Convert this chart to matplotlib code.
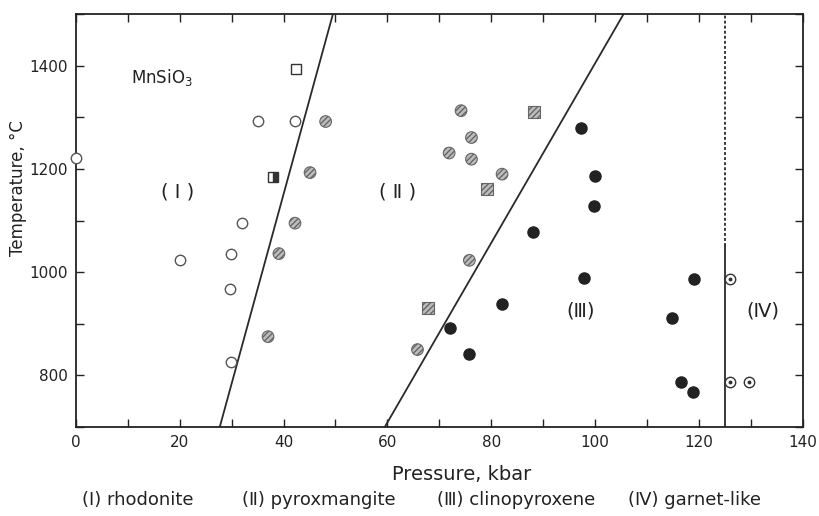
import matplotlib
matplotlib.use("Agg")
import matplotlib.pyplot as plt

plt.rcParams['font.family'] = ['DejaVu Sans', 'Noto Sans CJK JP']

# Data (pressure kbar, temperature °C)
rhod_P = [0, 20, 29.9, 29.7, 29.9, 31.9, 35.1, 42.2]
rhod_T = [1221, 1024, 1035, 967, 825, 1095, 1293, 1293]
rhod_sq_P = [42.3]
rhod_sq_T = [1393]
half_sq_P = [37.9]
half_sq_T = [1185]
pyrox_P = [48.1, 45.1, 42.2, 39.1, 37.0, 65.8, 71.9, 74.2, 76.2, 76.2, 82.1, 75.8]
pyrox_T = [1292, 1193, 1095, 1036, 875, 850, 1231, 1313, 1261, 1219, 1190, 1023]
pyrox_sq_P = [88.3, 79.2, 67.9]
pyrox_sq_T = [1310, 1161, 931]
clino_P = [97.4, 100.1, 99.9, 88.0, 97.9, 82.1, 72.1, 75.8, 119.0, 114.9, 116.5, 118.8]
clino_T = [1279, 1187, 1129, 1078, 988, 939, 891, 841, 987, 911, 788, 767]
garnet_P = [126, 126, 129.7]
garnet_T = [987, 788, 788]

b1_P = [27.7, 49.5]
b1_T = [700, 1500]
b2_P = [59.5, 105.5]
b2_T = [700, 1500]
b3_P = [125, 125]
b3_T_solid = [700, 1050]
b3_T_dash = [1050, 1500]

region_labels = ['( Ⅰ )', '( Ⅱ )', '(Ⅲ)', '(Ⅳ)']
region_P = [19.6, 62, 97.3, 132.3]
region_T = [1156, 1156, 925, 925]
caption = ['(Ⅰ) rhodonite', '(Ⅱ) pyroxmangite', '(Ⅲ) clinopyroxene', '(Ⅳ) garnet-like']

xticks = list(range(0, 141, 10))
yticks = list(range(700, 1501, 100))
xlabels = [str(v) if v % 20 == 0 else '' for v in xticks]
ylabels = [str(v) if v in (800, 1000, 1200, 1400) else '' for v in yticks]

fig = plt.figure(figsize=(8.2, 5.16), dpi=100)
ax = fig.add_axes([0.0927, 0.1725, 0.886, 0.800])
ax.set_xlim(0, 140)
ax.set_ylim(700, 1500)

lc = '#2a2a2a'
ax.plot(b1_P, b1_T, color=lc, lw=1.3)
ax.plot(b2_P, b2_T, color=lc, lw=1.3)
ax.plot(b3_P, b3_T_solid, color=lc, lw=1.3)
ax.plot(b3_P, b3_T_dash, color=lc, lw=1.3, ls=(0, (1.6, 1.2)))

ms = 7.5
ax.plot(rhod_P, rhod_T, 'o', ms=ms, mfc='white', mec='#555555', mew=1.0, ls='none', clip_on=False, zorder=5)
ax.plot(rhod_sq_P, rhod_sq_T, 's', ms=ms, mfc='white', mec='#333333', mew=1.0, ls='none', zorder=5)
ax.plot(half_sq_P, half_sq_T, 's', ms=ms, fillstyle='right', mfc='#333333', mfcalt='white',
        mec='#333333', mew=1.0, ls='none', zorder=5)
ax.scatter(pyrox_P, pyrox_T, s=70, marker='o', facecolor='#bdbdbd', edgecolor='#666666',
           hatch='//////', linewidths=0.8, zorder=5)
ax.scatter(pyrox_sq_P, pyrox_sq_T, s=75, marker='s', facecolor='#bdbdbd', edgecolor='#666666',
           hatch='//////', linewidths=0.8, zorder=5)
ax.plot(clino_P, clino_T, 'o', ms=ms + 0.5, mfc='#222222', mec='#222222', ls='none', zorder=5)
ax.plot(garnet_P, garnet_T, 'o', ms=ms, mfc='white', mec='#333333', mew=1.0, ls='none', zorder=5)
ax.plot(garnet_P, garnet_T, 'o', ms=1.8, mfc='#333333', mec='#333333', ls='none', zorder=6)

ax.text(10.5, 1378, 'MnSiO$_3$', fontsize=12, ha='left', va='center', color='#222222')
for lab, p, t in zip(region_labels, region_P, region_T):
    ax.text(p, t, lab, fontsize=14, ha='center', va='center', color='#222222')

ax.set_xticks(xticks)
ax.set_xticklabels(xlabels)
ax.set_yticks(yticks)
ax.set_yticklabels(ylabels)
ax.tick_params(direction='in', length=6, width=1.0, top=True, right=True,
               labelsize=11, colors='#222222', pad=6)
for s in ax.spines.values():
    s.set_linewidth(1.3)
    s.set_color('#222222')

ax.set_xlabel('Pressure, kbar', fontsize=14, color='#222222')
ax.xaxis.set_label_coords(0.531, -0.092)
ax.set_ylabel('Temperature, °C', fontsize=12, color='#222222')
ax.yaxis.set_label_coords(-0.068, 0.58)

cap_x = [82, 242, 437, 628]
for txt, xp in zip(caption, cap_x):
    fig.text(xp / 820, 1 - 500 / 516, txt, fontsize=13, ha='left', va='center', color='#222222')

fig.savefig('out.png', dpi=100)
